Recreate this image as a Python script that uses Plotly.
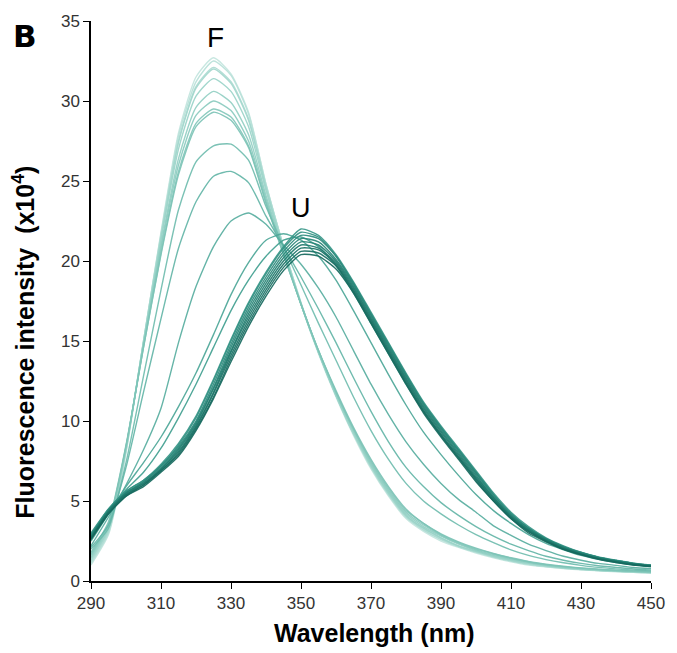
import plotly.graph_objects as go

# Wavelength grid (nm)
wavelength = [290, 295, 300, 305, 310, 315, 320, 325, 330, 335, 340, 345, 350, 355, 360, 365,
              370, 375, 380, 385, 390, 395, 400, 405, 410, 415, 420, 425, 430, 435, 440, 445, 450]

# Folded-state spectra (F), fluorescence intensity x10^4
f1 = [1.0, 2.9, 8.0, 15.0, 21.8, 28.0, 31.5, 32.7, 31.7, 29.3, 24.8, 20.9, 17.3, 14.2, 11.5, 9.1, 7.0, 5.3, 3.9, 3.1, 2.5, 2.1, 1.75, 1.45, 1.2, 1.0, 0.88, 0.78, 0.7, 0.63, 0.58, 0.54, 0.5]
f2 = [1.1, 3.0, 8.1, 15.0, 21.7, 27.8, 31.2, 32.5, 31.6, 29.2, 24.8, 20.9, 17.4, 14.3, 11.6, 9.2, 7.1, 5.4, 4.0, 3.2, 2.6, 2.15, 1.8, 1.5, 1.25, 1.05, 0.9, 0.8, 0.72, 0.65, 0.6, 0.55, 0.52]
f3 = [1.2, 3.1, 8.2, 15.0, 21.6, 27.5, 30.9, 32.1, 31.2, 28.9, 24.7, 20.9, 17.4, 14.3, 11.6, 9.2, 7.1, 5.4, 4.0, 3.2, 2.6, 2.15, 1.8, 1.5, 1.25, 1.05, 0.9, 0.8, 0.72, 0.65, 0.6, 0.55, 0.52]
f4 = [1.3, 3.2, 8.2, 14.9, 21.5, 27.4, 30.8, 32.0, 31.1, 28.8, 24.6, 20.8, 17.3, 14.3, 11.6, 9.2, 7.2, 5.5, 4.1, 3.3, 2.7, 2.2, 1.85, 1.55, 1.3, 1.1, 0.95, 0.83, 0.74, 0.67, 0.62, 0.57, 0.53]
f5 = [1.4, 3.3, 8.3, 14.9, 21.3, 27.0, 30.3, 31.4, 30.6, 28.4, 24.4, 20.7, 17.3, 14.3, 11.6, 9.3, 7.2, 5.5, 4.1, 3.3, 2.7, 2.2, 1.85, 1.55, 1.3, 1.1, 0.95, 0.83, 0.74, 0.67, 0.62, 0.57, 0.53]
f6 = [1.5, 3.4, 8.3, 14.8, 21.0, 26.4, 29.6, 30.6, 29.9, 27.9, 24.1, 20.6, 17.3, 14.3, 11.7, 9.4, 7.3, 5.6, 4.2, 3.4, 2.8, 2.3, 1.9, 1.6, 1.35, 1.15, 0.98, 0.86, 0.77, 0.7, 0.64, 0.59, 0.55]
f7 = [1.6, 3.5, 8.4, 14.7, 20.8, 26.0, 29.1, 30.0, 29.4, 27.5, 23.9, 20.5, 17.3, 14.4, 11.8, 9.5, 7.4, 5.7, 4.3, 3.5, 2.85, 2.35, 1.95, 1.65, 1.4, 1.18, 1.0, 0.88, 0.78, 0.71, 0.65, 0.6, 0.56]
f8 = [1.7, 3.6, 8.4, 14.6, 20.5, 25.6, 28.6, 29.5, 29.0, 27.2, 23.7, 20.4, 17.3, 14.4, 11.8, 9.5, 7.5, 5.8, 4.4, 3.6, 2.9, 2.4, 2.0, 1.7, 1.42, 1.2, 1.02, 0.9, 0.8, 0.72, 0.66, 0.61, 0.57]
f9 = [1.8, 3.7, 8.5, 14.6, 20.4, 25.4, 28.4, 29.3, 28.8, 27.1, 23.6, 20.4, 17.3, 14.4, 11.9, 9.6, 7.6, 5.9, 4.5, 3.6, 2.95, 2.45, 2.05, 1.72, 1.45, 1.22, 1.05, 0.92, 0.82, 0.74, 0.67, 0.62, 0.58]

# Intermediate spectra
i1 = [2.0, 3.3, 7.4, 12.8, 18.2, 23.2, 26.2, 27.2, 27.3, 26.3, 23.4, 20.9, 18.5, 16.1, 13.8, 11.5, 9.4, 7.6, 6.1, 5.0, 4.2, 3.5, 2.9, 2.4, 1.95, 1.6, 1.34, 1.14, 0.98, 0.85, 0.76, 0.68, 0.63]
i2 = [2.1, 3.5, 7.1, 11.8, 16.4, 20.8, 23.7, 25.3, 25.6, 24.9, 22.8, 20.9, 19.0, 17.0, 14.9, 12.7, 10.6, 8.7, 7.1, 5.9, 4.9, 4.1, 3.4, 2.8, 2.3, 1.9, 1.55, 1.3, 1.1, 0.95, 0.85, 0.75, 0.69]
i3 = [2.2, 4.0, 6.0, 8.2, 10.8, 14.9, 18.4, 20.9, 22.5, 23.0, 22.3, 21.0, 19.8, 18.3, 16.5, 14.4, 12.3, 10.4, 8.7, 7.3, 6.1, 5.1, 4.3, 3.45, 2.85, 2.3, 1.9, 1.55, 1.3, 1.1, 0.98, 0.84, 0.78]
i4 = [2.5, 4.2, 5.9, 7.4, 9.0, 10.9, 13.0, 15.4, 17.9, 19.9, 21.3, 21.7, 21.3, 20.3, 18.8, 16.9, 14.9, 12.9, 11.0, 9.3, 7.9, 6.6, 5.4, 4.4, 3.6, 2.9, 2.35, 1.95, 1.6, 1.35, 1.15, 1.0, 0.9]
i5 = [2.7, 4.4, 5.7, 6.8, 8.3, 10.2, 12.3, 14.6, 16.9, 18.8, 20.3, 21.3, 21.5, 20.9, 19.7, 18.0, 16.1, 14.2, 12.3, 10.6, 9.1, 7.7, 6.4, 5.1, 4.0, 3.2, 2.6, 2.1, 1.75, 1.45, 1.25, 1.08, 0.96]

# Unfolded-state spectra (U)
u1 = [3.0, 4.5, 5.6, 6.3, 7.3, 8.6, 10.3, 12.6, 15.1, 17.4, 19.3, 20.9, 22.0, 21.6, 20.4, 18.7, 16.8, 14.9, 13.0, 11.2, 9.7, 8.3, 6.9, 5.5, 4.3, 3.4, 2.7, 2.2, 1.8, 1.5, 1.3, 1.12, 1.0]
u2 = [2.9, 4.5, 5.6, 6.3, 7.2, 8.5, 10.2, 12.5, 15.0, 17.3, 19.2, 20.8, 21.8, 21.5, 20.3, 18.6, 16.7, 14.8, 12.9, 11.1, 9.6, 8.2, 6.8, 5.4, 4.2, 3.3, 2.65, 2.15, 1.78, 1.48, 1.28, 1.1, 0.98]
u3 = [2.9, 4.4, 5.5, 6.2, 7.2, 8.4, 10.0, 12.3, 14.8, 17.1, 19.0, 20.6, 21.6, 21.4, 20.3, 18.6, 16.7, 14.8, 12.9, 11.1, 9.6, 8.2, 6.8, 5.4, 4.2, 3.3, 2.65, 2.15, 1.78, 1.48, 1.28, 1.1, 0.98]
u4 = [2.8, 4.4, 5.5, 6.2, 7.1, 8.3, 9.9, 12.1, 14.6, 16.9, 18.8, 20.4, 21.4, 21.2, 20.1, 18.5, 16.6, 14.7, 12.8, 11.0, 9.5, 8.1, 6.7, 5.3, 4.1, 3.3, 2.6, 2.1, 1.75, 1.46, 1.26, 1.08, 0.96]
u5 = [2.8, 4.4, 5.5, 6.1, 7.0, 8.2, 9.8, 12.0, 14.4, 16.7, 18.6, 20.2, 21.2, 21.0, 20.0, 18.4, 16.5, 14.6, 12.7, 10.9, 9.4, 8.0, 6.6, 5.2, 4.1, 3.2, 2.6, 2.1, 1.73, 1.44, 1.24, 1.07, 0.95]
u6 = [2.7, 4.3, 5.4, 6.1, 7.0, 8.1, 9.7, 11.8, 14.3, 16.5, 18.4, 20.0, 21.0, 20.8, 19.9, 18.3, 16.4, 14.5, 12.6, 10.8, 9.3, 7.9, 6.5, 5.2, 4.0, 3.2, 2.55, 2.05, 1.7, 1.42, 1.22, 1.05, 0.94]
u7 = [2.7, 4.3, 5.4, 6.0, 6.9, 8.0, 9.6, 11.7, 14.1, 16.3, 18.2, 19.8, 20.8, 20.7, 19.8, 18.2, 16.3, 14.4, 12.5, 10.7, 9.2, 7.8, 6.4, 5.1, 4.0, 3.1, 2.5, 2.0, 1.68, 1.4, 1.2, 1.04, 0.93]
u8 = [2.6, 4.2, 5.3, 6.0, 6.9, 7.9, 9.5, 11.5, 13.9, 16.1, 18.0, 19.6, 20.6, 20.5, 19.7, 18.1, 16.2, 14.3, 12.4, 10.6, 9.1, 7.7, 6.3, 5.0, 3.9, 3.1, 2.5, 2.0, 1.66, 1.38, 1.18, 1.02, 0.92]
u9 = [2.6, 4.2, 5.3, 5.9, 6.8, 7.8, 9.4, 11.4, 13.7, 15.9, 17.8, 19.4, 20.4, 20.3, 19.5, 18.0, 16.1, 14.2, 12.3, 10.5, 9.0, 7.6, 6.2, 5.0, 3.9, 3.0, 2.45, 1.98, 1.64, 1.36, 1.16, 1.0, 0.9]

x_ticks = [290, 310, 330, 350, 370, 390, 410, 430, 450]
y_ticks = [0, 5, 10, 15, 20, 25, 30, 35]

series = [f1, f2, f3, f4, f5, f6, f7, f8, f9, i1, i2, i3, i4, i5,
          u1, u2, u3, u4, u5, u6, u7, u8, u9]
colors = ['#c4e6df', '#b8e1d9', '#aedcd3', '#a4d8ce', '#9bd4c9', '#93d0c4', '#8bccc0', '#84c8bb', '#7dc4b7',
          '#70bdaf', '#64b6a8', '#58aea0', '#4da798', '#42a091',
          '#3a988a', '#349284', '#2e8c7e', '#298678', '#248073', '#207a6d', '#1c7468', '#196f63', '#16695e']

FONT = "Liberation Sans, Arial, sans-serif"

fig = go.Figure()
for ys, c in zip(series, colors):
    fig.add_trace(go.Scatter(x=wavelength, y=ys, mode="lines",
                             line=dict(color=c, width=1.4, shape="spline", smoothing=0.6),
                             opacity=0.92, showlegend=False, hoverinfo="skip"))

fig.update_layout(
    width=677, height=653,
    margin=dict(l=91, r=19, t=17, b=72),
    paper_bgcolor="white", plot_bgcolor="white",
    font=dict(family=FONT, color="#333333"),
    xaxis=dict(range=[290, 450], tickvals=x_ticks, ticks="outside", ticklen=6, tickwidth=1.3,
               tickcolor="black", showline=True, linecolor="black", linewidth=1.5,
               showgrid=False, zeroline=False, tickfont=dict(size=17, family=FONT, color="#333333")),
    yaxis=dict(range=[0, 35], tickvals=y_ticks, ticks="outside", ticklen=6, tickwidth=1.3,
               tickcolor="black", showline=True, linecolor="black", linewidth=1.5,
               showgrid=False, zeroline=False, tickfont=dict(size=17, family=FONT, color="#333333")),
    annotations=[
        dict(text="<b>Wavelength (nm)</b>", xref="paper", yref="paper", x=0.506, y=-0.092,
             showarrow=False, font=dict(size=25, family=FONT, color="black"),
             xanchor="center", yanchor="middle"),
        dict(text="<b>Fluorescence intensity  (x10<sup>4</sup>)</b>", xref="paper", yref="paper",
             x=-0.12, y=0.427, textangle=-90, showarrow=False,
             font=dict(size=25, family=FONT, color="black"), xanchor="center", yanchor="middle"),
        dict(text="<b>B</b>", xref="paper", yref="paper", x=-0.118, y=0.974, showarrow=False,
             font=dict(size=31, family="DejaVu Sans, Arial", color="black"),
             xanchor="center", yanchor="middle"),
        dict(text="F", x=325.6, y=34.0, xref="x", yref="y", showarrow=False,
             font=dict(size=28, family=FONT, color="black"), xanchor="center", yanchor="middle"),
        dict(text="U", x=350.1, y=23.3, xref="x", yref="y", showarrow=False,
             font=dict(size=27, family=FONT, color="black"), xanchor="center", yanchor="middle"),
    ],
)

fig.write_html("out.html")
